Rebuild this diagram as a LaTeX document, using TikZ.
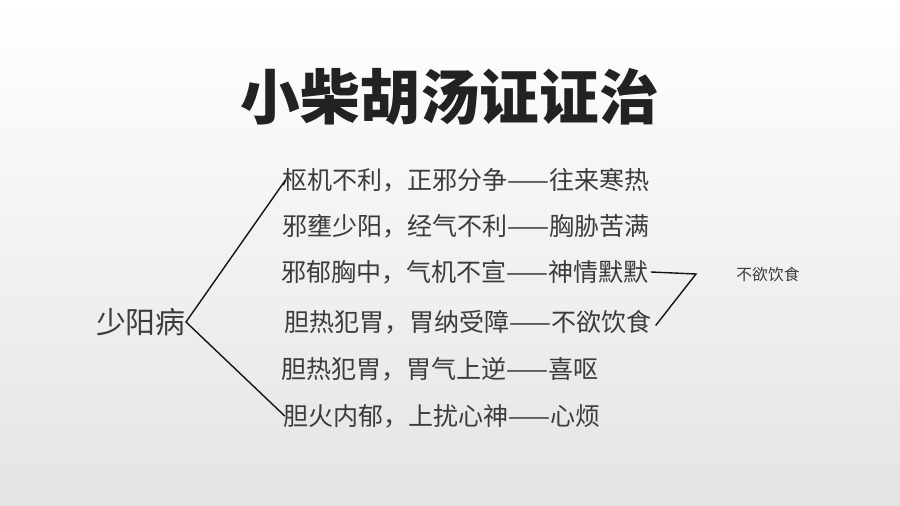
\documentclass[tikz,border=0pt]{standalone}
\usepackage{fontspec}
\usetikzlibrary{positioning, calc}
\newfontfamily\cjk{Noto Sans CJK SC}
\definecolor{TTitle}{RGB}{34,34,34}
\definecolor{TText}{RGB}{60,60,60}
\definecolor{TLine}{RGB}{20,20,20}
\definecolor{TBgLow}{RGB}{228,228,228}

\begin{document}
\begin{tikzpicture}[x=0.02cm, y=-0.02cm,
      every node/.style={inner sep=0pt, text=TText},
      ttl/.style={font=\cjk\bfseries\fontsize{34}{37}\selectfont, text=TTitle},
      rootbox/.style={font=\cjk\fontsize{17}{20}\selectfont, anchor=east},
      rowbox/.style={font=\cjk\fontsize{14.25}{16}\selectfont, anchor=west},
      notebox/.style={font=\cjk\fontsize{9}{11}\selectfont},
      link/.style={draw=TLine, line width=0.8pt},
    ]
      % Background
      \shade[top color=white, bottom color=TBgLow] (0,0) rectangle (900,506);
      \useasboundingbox (0,0) rectangle (900,506);
      % Title
      \node[ttl] (title) at (450,97) {小柴胡汤证证治};
      % Root
      \node[rootbox] (root) at (186,322) {少阳病};
      % Rows
      \node[rowbox] (r1) at (282,180) {枢机不利，正邪分争——往来寒热};
      \node[rowbox] (r2) at (282,226) {邪壅少阳，经气不利——胸胁苦满};
      \node[rowbox] (r3) at (281,272) {邪郁胸中，气机不宣——神情默默};
      \node[rowbox] (r4) at (284,322) {胆热犯胃，胃纳受障——不欲饮食};
      \node[rowbox] (r5) at (281,369) {胆热犯胃，胃气上逆——喜呕};
      \node[rowbox] (r6) at (283,416) {胆火内郁，上扰心神——心烦};
      % Fan from root
      \draw[link] ([xshift=2]r1.west) -- (root.east) -- ([xshift=1]r6.west);
      % Side note
      \coordinate (bend) at (696,274);
      \node[notebox] (note) at (768,274) {不欲饮食};
      \draw[link] ([xshift=1]r3.east) -- (bend) -- ([xshift=2,yshift=-2]r4.east);
    \end{tikzpicture}
\end{document}
